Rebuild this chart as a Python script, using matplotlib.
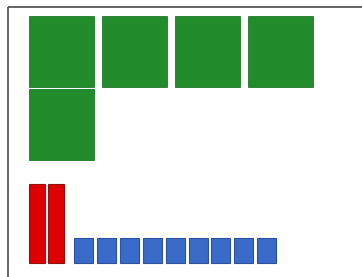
import numpy as np
import matplotlib
matplotlib.use("Agg")
import matplotlib.pyplot as plt

# unit counts for each group
green_count = 5
red_count = 2
blue_count = 9
green_cols = 4

fig = plt.figure(figsize=(3.62, 2.77), dpi=100)
ax = fig.add_axes([0, 0, 1, 1])
ax.set_xlim(0, 362)
ax.set_ylim(277, 0)
ax.axis('off')

# frame (only top and left visible)
ax.plot([8, 362], [7, 7], color='#555555', lw=1.3, solid_capstyle='butt')
ax.plot([8, 8], [7, 277], color='#555555', lw=1.3, solid_capstyle='butt')

# big green squares
g = np.arange(green_count)
col = g % green_cols
row = g // green_cols
ax.bar(29 + col * 73, 71, width=65, bottom=16 + row * 73, align='edge',
       color='#228b2b', edgecolor='#1e7a26', linewidth=0.6)

# tall red bars
r = np.arange(red_count)
ax.bar(29 + r * 18.5, 79, width=16, bottom=184, align='edge',
       color='#dd0000', edgecolor='#9a1010', linewidth=0.8)

# small blue squares
b = np.arange(blue_count)
ax.bar(74 + b * 22.9, 25, width=19, bottom=238, align='edge',
       color='#3a6bc8', edgecolor='#2c52a0', linewidth=0.8)

fig.savefig('out.png', dpi=100)
